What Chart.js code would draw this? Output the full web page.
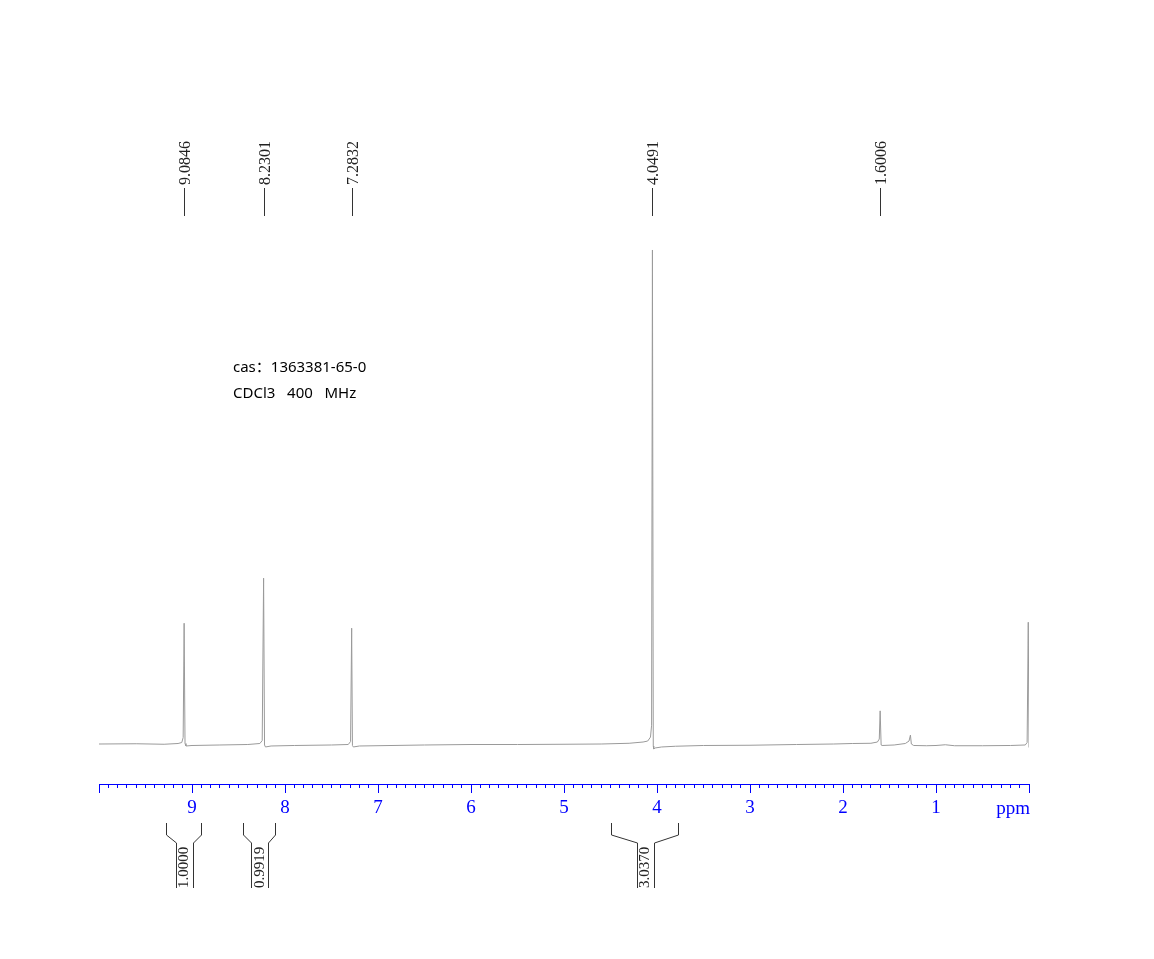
<!DOCTYPE html>
<html>
<head>
<meta charset="utf-8">
<script src="https://cdn.jsdelivr.net/npm/chart.js@4.4.1/dist/chart.umd.min.js"></script>
<style>
html,body{margin:0;padding:0;background:#ffffff;}
#wrap{position:relative;width:1154px;height:959px;}
</style>
</head>
<body>
<div id="wrap"><canvas id="c" width="1154" height="959"></canvas></div>
<script>
// Spectrum trace (ppm, relative intensity; tallest peak = 100)
const specPpm = [10.00, 9.60, 9.30, 9.15, 9.11, 9.095, 9.0846, 9.075, 9.065, 9.00, 8.70, 8.40,
  8.27, 8.245, 8.2301, 8.22, 8.21, 8.15, 7.90, 7.50, 7.32, 7.295, 7.2832, 7.275, 7.265, 7.20,
  6.50, 6.00, 5.50, 5.00, 4.60, 4.30, 4.15, 4.10, 4.07, 4.058, 4.0491, 4.04, 4.035, 4.02, 3.95,
  3.80, 3.50, 3.00, 2.50, 2.10, 1.90, 1.70, 1.63, 1.61, 1.6006, 1.59, 1.58, 1.45, 1.33, 1.29,
  1.275, 1.265, 1.24, 1.10, 1.00, 0.90, 0.80, 0.50, 0.20, 0.04, 0.02, 0.008, 0.00];
const specInt = [0.20, 0.25, 0.15, 0.30, 0.50, 1.5, 24.6, 0.3, -0.2, -0.1, 0.0, 0.1,
  0.3, 0.9, 33.7, 0.0, -0.4, -0.2, -0.1, 0.0, 0.1, 0.7, 23.6, -0.1, -0.4, -0.2,
  0.0, 0.1, 0.1, 0.15, 0.2, 0.35, 0.6, 0.8, 1.6, 4.0, 100, -0.2, -0.8, -0.6, -0.4,
  -0.25, -0.1, -0.05, 0.1, 0.2, 0.3, 0.35, 0.6, 1.2, 6.9, 0.0, -0.1, 0.0, 0.3, 0.8,
  2.0, 0.2, -0.1, -0.15, -0.1, 0.05, -0.15, -0.15, -0.1, 0.0, 0.5, 24.8, -0.5];

// Peak picking labels
const peakLabels = [9.0846, 8.2301, 7.2832, 4.0491, 1.6006];

// Integrals
const integralFrom = [9.28, 8.45, 4.49];
const integralTo = [8.90, 8.11, 3.77];
const integralValues = ['1.0000', '0.9919', '3.0370'];

// Axis tick labels
const majorTicks = [1, 2, 3, 4, 5, 6, 7, 8, 9];
const axisUnit = 'ppm';
const infoLines = ['cas：1363381-65-0', 'CDCl3   400   MHz'];

const BLUE = '#0000ff';
const points = specPpm.map((p, i) => ({x: p, y: specInt[i]}));

const isMajor = v => Math.abs(v - Math.round(v)) < 1e-6;

const annot = {
  id: 'annot',
  afterDraw(chart) {
    const ctx = chart.ctx;
    const xs = chart.scales.x;
    ctx.save();
    // peak labels
    ctx.strokeStyle = '#333';
    ctx.fillStyle = '#222';
    ctx.lineWidth = 1;
    ctx.font = '16px "Liberation Serif", "Times New Roman", serif';
    peakLabels.forEach(p => {
      const x = Math.round(xs.getPixelForValue(p)) + 0.5;
      ctx.beginPath();
      ctx.moveTo(x, 188);
      ctx.lineTo(x, 216);
      ctx.stroke();
      ctx.save();
      ctx.translate(x + 1, 185);
      ctx.rotate(-Math.PI / 2);
      ctx.textAlign = 'left';
      ctx.textBaseline = 'middle';
      ctx.fillText(p.toFixed(4), 0, 0);
      ctx.restore();
    });
    // integrals
    ctx.font = '15px "Liberation Serif", "Times New Roman", serif';
    integralValues.forEach((v, i) => {
      const xl = Math.round(xs.getPixelForValue(integralFrom[i])) + 0.5;
      const xr = Math.round(xs.getPixelForValue(integralTo[i])) + 0.5;
      const xc = (xl + xr) / 2;
      ctx.beginPath();
      ctx.moveTo(xl, 823); ctx.lineTo(xl, 835); ctx.lineTo(Math.round(xc - 8.5) + 0.5, 843); ctx.lineTo(Math.round(xc - 8.5) + 0.5, 888);
      ctx.moveTo(xr, 823); ctx.lineTo(xr, 835); ctx.lineTo(Math.round(xc + 8.5) + 0.5, 843); ctx.lineTo(Math.round(xc + 8.5) + 0.5, 888);
      ctx.stroke();
      ctx.save();
      ctx.translate(xc + 0.5, 888);
      ctx.rotate(-Math.PI / 2);
      ctx.textAlign = 'left';
      ctx.textBaseline = 'middle';
      ctx.fillText(v, 0, 0);
      ctx.restore();
    });
    // unit label
    ctx.fillStyle = BLUE;
    ctx.font = '19px "Liberation Serif", "Times New Roman", serif';
    ctx.textAlign = 'right';
    ctx.textBaseline = 'middle';
    ctx.fillText(axisUnit, xs.getPixelForValue(0) + 1, 809);
    // info text
    ctx.fillStyle = '#000';
    ctx.font = '15px "Noto Sans", "Noto Sans CJK SC", sans-serif';
    ctx.textAlign = 'left';
    infoLines.forEach((t, i) => ctx.fillText(t, 233, 368 + i * 26));
    ctx.restore();
  }
};

new Chart(document.getElementById('c'), {
  type: 'line',
  data: {
    datasets: [{
      data: points,
      borderColor: '#9a9a9a',
      borderWidth: 1,
      pointRadius: 0,
      tension: 0,
      fill: false
    }]
  },
  options: {
    responsive: false,
    animation: false,
    devicePixelRatio: 1,
    layout: {padding: {left: 99, right: 125, top: 240, bottom: 0}},
    plugins: {legend: {display: false}, tooltip: {enabled: false}},
    scales: {
      x: {
        type: 'linear',
        reverse: true,
        min: 0,
        max: 10,
        position: 'bottom',
        afterFit: s => { s.height = 175; },
        border: {display: true, color: BLUE, width: 1},
        grid: {
          drawOnChartArea: false,
          drawTicks: true,
          tickLength: 9,
          tickColor: BLUE,
          tickWidth: 1,
          tickBorderDash: c => (c.tick && isMajor(c.tick.value)) ? [] : [3, 30]
        },
        ticks: {
          stepSize: 0.1,
          autoSkip: false,
          maxRotation: 0,
          minRotation: 0,
          padding: 4,
          color: BLUE,
          font: {family: '"Liberation Serif", "Times New Roman", serif', size: 19},
          callback: v => {
            const r = Math.round(v);
            return (isMajor(v) && majorTicks.includes(r)) ? String(r) : '';
          }
        }
      },
      y: {
        display: false,
        min: -7.879,
        max: 102.02
      }
    }
  },
  plugins: [annot]
});
</script>
</body>
</html>
